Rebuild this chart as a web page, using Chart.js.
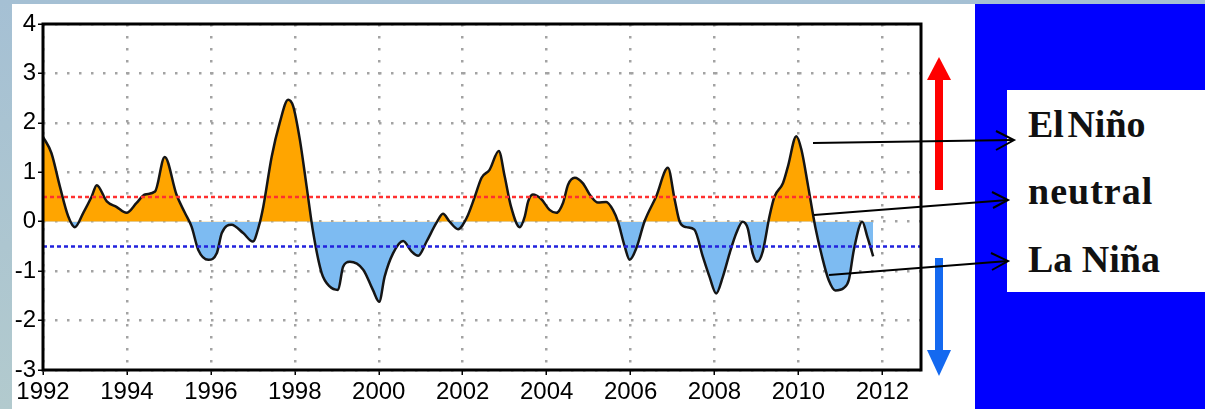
<!DOCTYPE html>
<html>
<head>
<meta charset="utf-8">
<script src="https://cdn.jsdelivr.net/npm/chart.js@4/dist/chart.umd.min.js"></script>
<style>
  html, body { margin: 0; padding: 0; }
  body {
    width: 1205px; height: 409px; overflow: hidden; position: relative;
    background: linear-gradient(180deg, #a5c0d4 0%, #adc6d0 60%, #b2cace 100%);
  }
  #card { position: absolute; left: 12px; top: 4px; width: 963px; height: 405px; background: #fff; }
  #wrap { position: absolute; left: 12px; top: 4px; width: 963px; height: 405px; }
  #panel { position: absolute; left: 975px; top: 4px; width: 230px; height: 405px; background: #0000ff; }
  #box { position: absolute; left: 1007px; top: 90px; width: 198px; height: 202px; background: #fff; }
  .lbl {
    position: absolute; left: 1028px; font-family: "Liberation Serif", "Times New Roman", serif;
    font-weight: bold; font-size: 38px; line-height: 38px; color: #111; white-space: nowrap;
  }
  svg { position: absolute; left: 0; top: 0; }
</style>
</head>
<body>
<div id="card"></div>
<div id="wrap"><canvas id="myChart"></canvas></div>
<div id="panel"></div>
<div id="box"></div>
<div class="lbl" style="top:105px;word-spacing:-6px">El Niño</div>
<div class="lbl" style="top:172px;letter-spacing:1px">neutral</div>
<div class="lbl" style="top:240px">La Niña</div>
<svg width="1205" height="409">
  <!-- red / blue direction arrows -->
  <rect x="935" y="78" width="8" height="112" fill="#ff0000"/>
  <polygon points="927,80 951,80 939,57" fill="#ff0000"/>
  <rect x="935" y="258" width="8" height="94" fill="#1469f0"/>
  <polygon points="927,350 951,350 939,376" fill="#1469f0"/>
  <!-- pointer lines -->
  <g stroke="#000" stroke-width="2" fill="none">
    <line x1="813" y1="143" x2="1014" y2="140"/>
    <polyline points="996,131 1014,140 996,150"/>
    <line x1="814" y1="215" x2="1008" y2="200"/>
    <polyline points="992,192 1008,200 993,208"/>
    <line x1="829" y1="275" x2="1008" y2="261"/>
    <polyline points="991,253 1008,261 992,270"/>
  </g>
</svg>
<script>
// ENSO index (decimal year, value)
const years = [
  1992.0, 1992.2, 1992.4, 1992.6, 1992.76, 1992.96, 1993.16, 1993.28, 1993.52, 1993.75,
  1993.99, 1994.23, 1994.43, 1994.67, 1994.9, 1995.18, 1995.38, 1995.54, 1995.7, 1995.94,
  1996.14, 1996.26, 1996.49, 1996.77, 1997.0, 1997.14, 1997.25, 1997.45, 1997.64, 1997.84,
  1997.96, 1998.12, 1998.28, 1998.44, 1998.64, 1998.83, 1999.03, 1999.15, 1999.31, 1999.63,
  1999.86, 2000.01, 2000.14, 2000.34, 2000.58, 2000.78, 2000.94, 2001.14, 2001.37, 2001.53,
  2001.69, 2001.89, 2002.09, 2002.29, 2002.45, 2002.64, 2002.86, 2003.0, 2003.15, 2003.36,
  2003.48, 2003.56, 2003.67, 2003.87, 2004.07, 2004.23, 2004.39, 2004.51, 2004.67, 2004.86,
  2005.06, 2005.22, 2005.42, 2005.58, 2005.7, 2005.86, 2005.98, 2006.14, 2006.33, 2006.61,
  2006.89, 2007.05, 2007.17, 2007.33, 2007.52, 2007.72, 2007.88, 2008.04, 2008.2, 2008.36,
  2008.52, 2008.67, 2008.79, 2008.91, 2009.02, 2009.15, 2009.31, 2009.43, 2009.63, 2009.75,
  2009.95, 2010.07, 2010.23, 2010.4, 2010.56, 2010.72, 2010.88, 2011.08, 2011.2, 2011.32,
  2011.52, 2011.64, 2011.78
];
const ensoIndex = [
  1.72, 1.39, 0.72, 0.11, -0.11, 0.18, 0.51, 0.74, 0.41, 0.30,
  0.18, 0.38, 0.55, 0.61, 1.31, 0.55, 0.18, -0.10, -0.57, -0.77,
  -0.64, -0.23, -0.06, -0.23, -0.40, -0.10, 0.31, 1.32, 2.0, 2.47,
  2.34, 1.66, 0.72, -0.23, -1.04, -1.31, -1.38, -0.91, -0.81, -0.97,
  -1.38, -1.62, -1.11, -0.64, -0.39, -0.60, -0.69, -0.40, -0.03, 0.16,
  0.0, -0.15, 0.07, 0.51, 0.89, 1.05, 1.43, 0.92, 0.31, -0.11,
  0.11, 0.41, 0.55, 0.46, 0.24, 0.18, 0.38, 0.75, 0.89, 0.78,
  0.51, 0.39, 0.40, 0.24, 0.0, -0.50, -0.77, -0.53, 0.0, 0.51,
  1.09, 0.45, 0.0, -0.11, -0.16, -0.70, -1.11, -1.45, -1.11, -0.64,
  -0.23, 0.0, -0.13, -0.64, -0.81, -0.60, 0.11, 0.51, 0.78, 1.12,
  1.73, 1.46, 0.72, -0.10, -0.70, -1.18, -1.39, -1.34, -1.18, -0.57,
  0.0, -0.30, -0.70
];
const elNinoLevel = 0.5;
const laNinaLevel = -0.5;
const xMin = 1992, xMax = 2012.92;
const yMin = -3, yMax = 4;

const seriesPoints = years.map((x, i) => ({ x: x, y: ensoIndex[i] }));

// black frame round the plot area
const frame = {
  id: 'frame',
  afterDraw(chart) {
    const a = chart.chartArea, ctx = chart.ctx;
    ctx.save();
    ctx.strokeStyle = '#000';
    ctx.lineWidth = 3;
    ctx.strokeRect(a.left, a.top, a.right - a.left, a.bottom - a.top);
    ctx.restore();
  }
};

const tickFont = { family: "'Liberation Sans Narrow', 'Arial Narrow', 'Liberation Sans', Arial, sans-serif", size: 24 };

const ctx = document.getElementById('myChart').getContext('2d');
const myChart = new Chart(ctx, {
  type: 'line',
  data: {
    datasets: [
      {
        label: 'El Niño threshold',
        data: [{ x: xMin, y: elNinoLevel }, { x: xMax, y: elNinoLevel }],
        borderColor: '#ff3030', borderWidth: 2.5, borderDash: [4, 3],
        pointRadius: 0, fill: false
      },
      {
        label: 'La Niña threshold',
        data: [{ x: xMin, y: laNinaLevel }, { x: xMax, y: laNinaLevel }],
        borderColor: '#2222dd', borderWidth: 2.5, borderDash: [4, 3],
        pointRadius: 0, fill: false
      },
      {
        label: 'Index',
        data: seriesPoints,
        borderColor: '#151515', borderWidth: 2.5,
        pointRadius: 0,
        cubicInterpolationMode: 'monotone',
        fill: { target: 'origin', above: '#ffa500', below: '#7dbbf2' }
      }
    ]
  },
  options: {
    responsive: true,
    maintainAspectRatio: false,
    animation: false,
    layout: { padding: { top: 20, right: 54, left: 0, bottom: 0 } },
    plugins: { legend: { display: false }, tooltip: { enabled: false } },
    scales: {
      x: {
        type: 'linear', min: xMin, max: xMax,
        afterFit(s) { s.height = 39; },
        border: { display: false, dash: [2.5, 9.5] },
        grid: { color: '#a3a3a3', lineWidth: 2.5, tickLength: 5, tickColor: '#000', tickWidth: 1.5, tickBorderDash: [] },
        ticks: { stepSize: 2, includeBounds: false, color: '#000', font: tickFont, padding: 3, maxRotation: 0,
                 callback: v => String(v) }
      },
      y: {
        min: yMin, max: yMax,
        afterFit(s) { s.width = 31; },
        border: { display: false, dash: [2.5, 9.5] },
        grid: { color: '#a3a3a3', lineWidth: 2.5, tickLength: 5, tickColor: '#000', tickWidth: 1.5, tickBorderDash: [] },
        ticks: { stepSize: 1, color: '#000', font: tickFont, padding: 2 }
      }
    }
  },
  plugins: [frame]
});
</script>
</body>
</html>
